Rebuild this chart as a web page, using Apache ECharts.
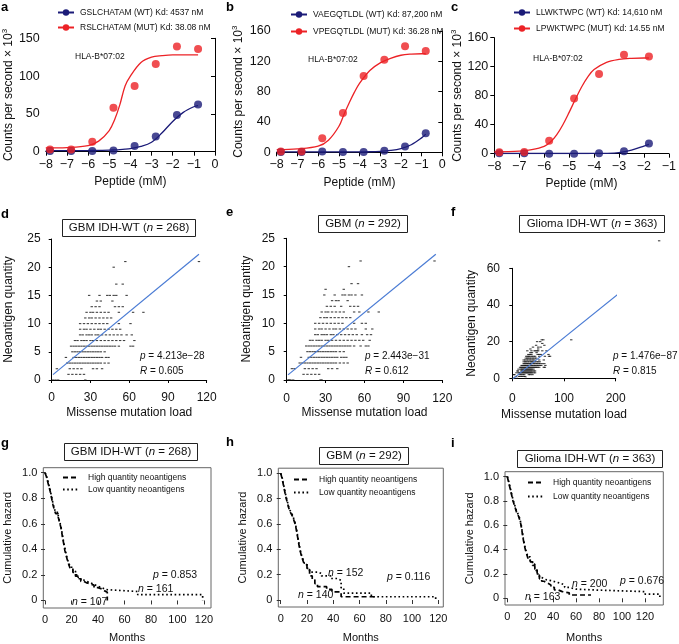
<!DOCTYPE html>
<html><head><meta charset="utf-8">
<script src="https://cdn.jsdelivr.net/npm/echarts@6/dist/echarts.min.js"></script>
<style>html,body{margin:0;padding:0;background:#fff}#c{width:679px;height:644px}</style>
</head><body><div id="c"></div>
<script>
const FONT = '"Liberation Sans", Arial, Helvetica, sans-serif';
const NAVY = '#1b1b78', RED = '#ec2226', BLUE = '#4a7bd4';

// ---------- a/b/c : peptide binding ----------
const peptideX8 = [-7.8,-6.8,-5.8,-4.8,-3.8,-2.8,-1.8,-0.8];
const peptideX7 = [-7.8,-6.8,-5.8,-4.8,-3.8,-2.8,-1.8];
const fitX8 = [-8,-7,-6,-5.5,-5,-4.75,-4.5,-4.25,-4,-3.5,-3,-2.5,-2,-1.5,-1,-0.8];
const fitX7 = [-8,-7,-6.5,-6,-5.75,-5.5,-5.25,-5,-4.75,-4.5,-4.25,-4,-3.5,-3,-2.5,-2,-1.8];

const aNames = ['GSLCHATAM (WT) Kd: 4537 nM','RSLCHATAM (MUT) Kd: 38.08 nM'];
const aWT  = [1,1,1,1.5,7.5,20,48.5,62.5];
const aMUT = [3,3,13,58,87,116,139,136];
const aWTfit  = [1.5,1.5,1.6,1.8,2,2.3,2.7,3.3,4.2,7,12.5,25,40,52,59.5,61];
const aMUTfit = [5,5.5,8,14,28,42,62,87,100,118,125,127,128,128,128,128];

const bNames = ['VAEGQTLDL (WT) Kd: 87,200 nM','VPEGQTLDL (MUT) Kd: 36.28 nM'];
const bWT  = [0.5,0.5,1,0.5,0.5,2,7.5,25];
const bMUT = [1,1,18.5,52,100.5,122,140,133.5];
const bWTfit  = [0.5,0.5,0.5,0.5,0.5,0.5,0.5,0.55,0.6,0.7,1.2,2.5,5,10,19,24];
const bMUTfit = [3.5,4.5,8,16,34,50,65,79,91,108,118,124,128,129.5,130,130];

const cNames = ['LLWKTWPC (WT) Kd: 14,610 nM','LPWKTWPC (MUT) Kd: 14.55 nM'];
const cWT  = [0.5,0.5,0,0,0.5,3.5,14];
const cMUT = [2,2.5,18,76,110,136.5,134];
const cWTfit  = [0.3,0.3,0.3,0.3,0.3,0.3,0.3,0.3,0.3,0.3,0.3,0.35,0.5,1.5,5,10.5,13];
const cMUTfit = [2.5,3.5,5.5,10,16,26,40,57,75,92,106,116,126,130,131.5,132,132];

// ---------- d/e/f : neoantigen vs missense ----------
const scatterD = [
 [1,0],[3,0],[5,0],[26,0],
 [13,1],[16,1],[19,1],[22,1],[25,1],
 [4,2],[14,2],[17,2],[20,2],[23,2],[32,2],[35,2],[39,2],
 [12,3],[14,3],[16,3],[18,3],[20,3],[22,3],[24,3],[26,3],[28,3],[30,3],[32,3],[34,3],[36,3],[38,3],[41,3],[44,3],
 [11,4],[17,4],[19,4],[21,4],[23,4],[25,4],[27,4],[29,4],[31,4],[33,4],[35,4],[37,4],[39,4],[42,4],[44,4],
 [16,5],[18,5],[20,5],[22,5],[24,5],[26,5],[28,5],[30,5],[32,5],[34,5],[36,5],[38,5],[41,5],
 [15,6],[17,6],[19,6],[21,6],[23,6],[25,6],[27,6],[29,6],[31,6],[33,6],[35,6],[37,6],[39,6],[41,6],[43,6],[45,6],[47,6],[49,6],[52,6],[61,6],[63,6],
 [18,7],[20,7],[23,7],[25,7],[27,7],[30,7],[32,7],[35,7],[38,7],[41,7],[44,7],[47,7],[50,7],[53,7],[56,7],[64,7],
 [22,8],[24,8],[27,8],[29,8],[31,8],[34,8],[36,8],[39,8],[42,8],[45,8],[48,8],[51,8],[54,8],[58,8],[62,8],
 [22,9],[25,9],[27,9],[30,9],[33,9],[36,9],[38,9],[41,9],[44,9],[47,9],[50,9],[53,9],
 [22,10],[25,10],[28,10],[31,10],[34,10],[37,10],[40,10],[43,10],[52,10],[61,10],
 [26,11],[29,11],[31,11],[34,11],[37,11],[40,11],[43,11],[46,11],
 [27,12],[30,12],[32,12],[35,12],[38,12],[41,12],[44,12],[52,12],[63,12],[71,12],
 [31,13],[34,13],[37,13],[49,13],[52,13],[55,13],
 [35,14],[38,14],[47,14],
 [29,15],[37,15],[43,15],[45,15],[48,15],[50,15],[58,15],
 [50,17],[55,17],[48,20],[57,21],[114,21]
];
const extraE = [[2,0],[27,0],[6,2],[10,3],[47,3],[46,4],[44,5],[57,6],[59,7],[65,8],[66,9],[61,9],[58,10],[49,11],[56,12],[42,13],[40,14],[53,15],[30,16],[44,16]];
const extraF = [[7,1],[9,0],[3,2],[8,3],[10,4],[12,5],[35,16],[40,17],[46,18],[50,16],[54,20],[58,19],[60,21],[62,18],[66,15],[70,13],[73,12],[284,75]];
const scatterE = scatterD.concat(extraE);
const scatterF = scatterD.concat(extraF);
const fitLineD = [[1,0.95],[114,22.3]];
const fitLineE = [[1,0.9],[115,22.2]];
const fitLineF = [[1,-0.3],[284,64]];

// ---------- g/h/i : cumulative hazard ----------
const kmLegend = ['High quantity neoantigens','Low quantity neoantigens'];
const kmG_high = [[0,1],[1,0.97],[2,0.93],[3,0.89],[4,0.85],[5,0.8],[6,0.75],[7,0.71],[8,0.68],[10,0.65],[11,0.61],[12,0.57],[13,0.51],[14,0.45],[15,0.39],[16,0.35],[17,0.31],[18,0.28],[19,0.25],[21,0.22],[23,0.19],[25,0.17],[27,0.15],[29,0.14],[31,0.13],[34,0.12],[37,0.1],[40,0.09],[43,0.075],[45,0.065],[47,0]];
const kmG_low  = [[0,1],[1,0.98],[2,0.94],[3,0.9],[4,0.86],[5,0.81],[6,0.76],[7,0.72],[8,0.69],[10,0.66],[11,0.62],[12,0.58],[13,0.52],[14,0.46],[15,0.41],[16,0.36],[17,0.32],[18,0.29],[19,0.26],[21,0.23],[23,0.2],[25,0.18],[27,0.16],[29,0.15],[31,0.14],[34,0.125],[37,0.11],[40,0.1],[43,0.085],[46,0.07],[70,0.045],[119,0]];
const kmH_high = [[0,1],[1,0.96],[2,0.91],[3,0.86],[4,0.81],[5,0.77],[6,0.73],[7,0.7],[8,0.68],[9,0.66],[10,0.63],[11,0.6],[12,0.55],[13,0.49],[14,0.43],[15,0.38],[16,0.34],[17,0.31],[18,0.28],[20,0.24],[22,0.19],[24,0.16],[26,0.13],[28,0.105],[35,0.085],[39,0.065],[46,0.026],[74,0.026]];
const kmH_low  = [[0,1],[1,0.97],[2,0.92],[3,0.87],[4,0.82],[5,0.78],[6,0.74],[7,0.71],[8,0.69],[9,0.67],[10,0.64],[11,0.61],[12,0.56],[13,0.5],[14,0.44],[15,0.39],[16,0.35],[17,0.32],[18,0.29],[20,0.25],[22,0.22],[28,0.21],[31,0.19],[38,0.17],[43,0.155],[46,0.095],[48,0.055],[69,0.026],[118,0]];
const kmI_high = [[0,1],[1,0.96],[2,0.92],[3,0.88],[4,0.84],[5,0.8],[6,0.77],[7,0.74],[8,0.71],[9,0.69],[10,0.67],[11,0.64],[12,0.6],[13,0.54],[14,0.48],[15,0.43],[16,0.39],[17,0.36],[18,0.33],[20,0.3],[22,0.27],[24,0.23],[26,0.19],[28,0.16],[30,0.14],[32,0.125],[35,0.11],[38,0.09],[41,0.07],[44,0.055],[48,0.045],[54,0.027],[73,0.027]];
const kmI_low  = [[0,1],[1,0.97],[2,0.93],[3,0.89],[4,0.85],[5,0.81],[6,0.78],[7,0.75],[8,0.72],[9,0.7],[10,0.68],[11,0.65],[12,0.61],[13,0.55],[14,0.49],[15,0.44],[16,0.4],[17,0.37],[18,0.34],[20,0.31],[22,0.28],[24,0.24],[26,0.2],[28,0.17],[30,0.155],[33,0.145],[38,0.135],[42,0.125],[46,0.11],[50,0.09],[54,0.075],[60,0.068],[77,0.055],[120,0.035],[133,0]];
const kmXTicks = [0,20,40,60,80,100,120];
const kmYTicks = [0,0.2,0.4,0.6,0.8,1];

// ---------- build ----------
const zip = (xs, ys) => xs.map((x, i) => [x, ys[i]]);
const minus = v => (v < 0 ? '\u2212' + Math.abs(v) : String(v));
const grids = [], xAxes = [], yAxes = [], series = [], titles = [], legends = [];
const tx = (size, extra) => Object.assign({fontFamily: FONT, fontSize: size, color: '#111', fontWeight: 'normal'}, extra || {});

function dosePanel(p) {
  const gi = grids.length;
  grids.push({left: p.left, top: p.top, width: p.width, height: p.height});
  xAxes.push({gridIndex: gi, type: 'value', min: p.xmin, max: p.xmax, interval: 1,
    axisLine: {lineStyle: {color: '#000', width: 1}}, axisTick: {length: 4, lineStyle: {color: '#000'}},
    axisLabel: Object.assign(tx(12.5), {formatter: minus, margin: 6}), splitLine: {show: false},
    name: 'Peptide (mM)', nameLocation: 'middle', nameGap: p.xGap, nameTextStyle: tx(12)});
  yAxes.push({gridIndex: gi, type: 'value', min: 0, max: p.ymax, interval: p.yint,
    axisLine: {show: true, lineStyle: {color: '#000', width: 1}}, axisTick: {show: true, length: 4, lineStyle: {color: '#000'}},
    axisLabel: Object.assign(tx(12.5), {margin: 6}), splitLine: {show: false},
    name: '{a|Counts per second × 10}{s|3}', nameLocation: 'middle', nameGap: p.yGap,
    nameTextStyle: {rich: {a: tx(12), s: tx(8, {padding: [0, 0, 8, 0]})}}});
  const mk = (name, color, fx, fy, px, py) => {
    series.push({type: 'line', name, xAxisIndex: gi, yAxisIndex: gi, data: zip(fx, fy), smooth: 0.35,
      symbol: 'circle', symbolSize: 8, showSymbol: false, color, lineStyle: {width: 1.3, color}});
    series.push({type: 'scatter', name, xAxisIndex: gi, yAxisIndex: gi, data: zip(px, py),
      symbol: 'circle', symbolSize: 8, itemStyle: {color}, z: 5});
  };
  mk(p.names[0], NAVY, p.fitX, p.wtFit, p.ptX, p.wt);
  mk(p.names[1], RED, p.fitX, p.mutFit, p.ptX, p.mut);
  legends.push({left: p.legLeft, top: p.legTop, padding: 0, orient: 'vertical', data: p.names, selectedMode: false,
    itemWidth: 16, itemHeight: 8, itemGap: p.legGap, textStyle: tx(8.5, {padding: [0, 0, 0, 1]})});
  titles.push({text: 'HLA-B*07:02', left: p.hlaLeft, top: p.hlaTop, padding: 0, textStyle: tx(8.5)});
}

dosePanel({left: 43, top: 38.3, width: 172, height: 113.4, xmin: -8, xmax: 0, ymax: 150, yint: 50,
  names: aNames, ptX: peptideX8, wt: aWT, mut: aMUT, fitX: fitX8, wtFit: aWTfit, mutFit: aMUTfit,
  xGap: 24, yGap: 28, legLeft: 57, legTop: 8, legGap: 6, hlaLeft: 75, hlaTop: 52});
dosePanel({left: 276.7, top: 31, width: 165.6, height: 121.3, xmin: -8, xmax: 0, ymax: 160, yint: 40,
  names: bNames, ptX: peptideX8, wt: bWT, mut: bMUT, fitX: fitX8, wtFit: bWTfit, mutFit: bMUTfit,
  xGap: 24, yGap: 30, legLeft: 290, legTop: 10, legGap: 8, hlaLeft: 308, hlaTop: 55});
dosePanel({left: 494.3, top: 37.7, width: 183.4, height: 116, xmin: -8, xmax: -1, ymax: 160, yint: 40,
  names: cNames, ptX: peptideX7, wt: cWT, mut: cMUT, fitX: fitX7, wtFit: cWTfit, mutFit: cMUTfit,
  xGap: 24, yGap: 24, legLeft: 513, legTop: 8, legGap: 7, hlaLeft: 533, hlaTop: 54});

function scatterPanel(p) {
  const gi = grids.length;
  grids.push({left: p.left, top: p.top, width: p.width, height: p.height});
  xAxes.push({gridIndex: gi, type: 'value', min: 0, max: p.xmax, interval: p.xint, offset: p.xOff,
    axisLine: {lineStyle: {color: '#000'}}, axisTick: {length: 3, lineStyle: {color: '#000'}},
    axisLabel: Object.assign(tx(12), {margin: 4}), splitLine: {show: false},
    name: 'Missense mutation load', nameLocation: 'middle', nameGap: p.xGap, nameTextStyle: tx(12)});
  yAxes.push({gridIndex: gi, type: 'value', min: 0, max: p.ymax, interval: p.yint, offset: p.yOff,
    axisLine: {show: true, lineStyle: {color: '#000'}}, axisTick: {show: true, length: 3, lineStyle: {color: '#000'}},
    axisLabel: Object.assign(tx(12), {margin: 5}), splitLine: {show: false},
    name: 'Neoantigen quantity', nameLocation: 'middle', nameGap: p.yGap, nameTextStyle: tx(12)});
  series.push({type: 'scatter', xAxisIndex: gi, yAxisIndex: gi, data: p.data, clip: false,
    symbol: 'rect', symbolSize: [2.4, 1.1], itemStyle: {color: '#111'}});
  series.push({type: 'line', xAxisIndex: gi, yAxisIndex: gi, data: p.fit, clip: false, symbol: 'none',
    lineStyle: {color: BLUE, width: 1.2}, z: 4});
  titles.push({text: p.title, left: p.tCx, top: p.tTop, textAlign: 'center', padding: [3, 7, 3, 7],
    borderColor: '#222', borderWidth: 1, textStyle: tx(11.5),
    rich: {}, subtext: ''});
  titles[titles.length - 1].textStyle.rich = {a: tx(11.5), i: tx(11.5, {fontStyle: 'italic'})};
  titles.push({text: '{i|p}{a| = ' + p.pval + '}', left: p.statLeft, top: p.statTop, padding: 0,
    textStyle: Object.assign(tx(10), {rich: {a: tx(10), i: tx(10, {fontStyle: 'italic'})}})});
  titles.push({text: '{i|R}{a| = ' + p.r + '}', left: p.statLeft, top: p.statTop + 15, padding: 0,
    textStyle: Object.assign(tx(10), {rich: {a: tx(10), i: tx(10, {fontStyle: 'italic'})}})});
}

scatterPanel({left: 51.7, top: 239, width: 155, height: 141, xmax: 120, xint: 30, ymax: 25, yint: 5, xOff: 8, yOff: 6,
  data: scatterD, fit: fitLineD, xGap: 19, yGap: 31, title: '{a|GBM IDH-WT (}{i|n}{a| = 268)}', tCx: 122, tTop: 219,
  pval: '4.213e\u221228', r: '0.605', statLeft: 140, statTop: 351});
scatterPanel({left: 286.7, top: 238.3, width: 155.6, height: 141.7, xmax: 120, xint: 30, ymax: 25, yint: 5, xOff: 9, yOff: 6.7,
  data: scatterE, fit: fitLineE, xGap: 18, yGap: 27, title: '{a|GBM (}{i|n}{a| = 292)}', tCx: 356, tTop: 215,
  pval: '2.443e\u221231', r: '0.612', statLeft: 365, statTop: 351});
scatterPanel({left: 512.3, top: 268.3, width: 103.4, height: 110, xmax: 200, xint: 100, ymax: 60, yint: 20, xOff: 10, yOff: 7.3,
  data: scatterF, fit: fitLineF, xGap: 20, yGap: 27, title: '{a|Glioma IDH-WT (}{i|n}{a| = 363)}', tCx: 585, tTop: 215,
  pval: '1.476e\u221287', r: '0.815', statLeft: 613, statTop: 351});

function kmPanel(p) {
  const gi = grids.length;
  grids.push({left: p.left, top: p.top, width: p.width, height: p.height, show: true, borderColor: '#666', borderWidth: 1});
  xAxes.push({gridIndex: gi, type: 'value', min: p.xmin, max: p.xmax,
    axisLine: {show: false}, axisTick: {show: true, length: 4, customValues: kmXTicks, lineStyle: {color: '#333'}},
    axisLabel: Object.assign(tx(11), {customValues: kmXTicks, margin: 6}), splitLine: {show: false},
    name: 'Months', nameLocation: 'middle', nameGap: p.xGap, nameTextStyle: tx(11)});
  yAxes.push({gridIndex: gi, type: 'value', min: p.ymin, max: p.ymax,
    axisLine: {show: false}, axisTick: {show: true, length: 4, customValues: kmYTicks, lineStyle: {color: '#333'}},
    axisLabel: Object.assign(tx(11), {customValues: kmYTicks, margin: 6, formatter: v => (v === 0 ? '0' : v.toFixed(1))}),
    splitLine: {show: false},
    name: 'Cumulative hazard', nameLocation: 'middle', nameGap: p.yGap, nameTextStyle: tx(11)});
  series.push({type: 'line', name: kmLegend[0], xAxisIndex: gi, yAxisIndex: gi, data: p.high, step: 'end', symbol: 'none',
    color: '#000', lineStyle: {color: '#000', width: 1.7, type: [5, 3]}});
  series.push({type: 'line', name: kmLegend[1], xAxisIndex: gi, yAxisIndex: gi, data: p.low, step: 'end', symbol: 'none',
    color: '#000', lineStyle: {color: '#000', width: 1.7, type: [1.6, 2.6]}});
  legends.push({left: p.legLeft, top: p.legTop, padding: 0, orient: 'vertical', data: kmLegend, selectedMode: false,
    itemWidth: 16, itemHeight: 8, itemGap: p.legGap, itemStyle: {color: 'rgba(0,0,0,0)', borderWidth: 0, opacity: 0},
    textStyle: tx(8.5, {padding: [0, 0, 0, 4]})});
  titles.push({text: p.title, left: p.tCx, top: p.tTop, textAlign: 'center', padding: [3, 7, 3, 7],
    borderColor: '#222', borderWidth: 1,
    textStyle: Object.assign(tx(11.5), {rich: {a: tx(11.5), i: tx(11.5, {fontStyle: 'italic'})}})});
  const lab = (txt, l, t) => titles.push({text: txt, left: l, top: t, padding: 0,
    textStyle: Object.assign(tx(10.5), {rich: {a: tx(10.5), i: tx(10.5, {fontStyle: 'italic'})}})});
  lab('{i|p}{a| = ' + p.pval + '}', p.pPos[0], p.pPos[1]);
  lab('{i|n}{a| = ' + p.nLow + '}', p.nLowPos[0], p.nLowPos[1]);
  lab('{i|n}{a| = ' + p.nHigh + '}', p.nHighPos[0], p.nHighPos[1]);
}

kmPanel({left: 43.3, top: 467.7, width: 167.7, height: 141.6, xmin: -1.3, xmax: 125.3, ymin: -0.059, ymax: 1.039,
  high: kmG_high, low: kmG_low, xGap: 24, yGap: 30, legLeft: 62, legTop: 473, legGap: 3,
  title: '{a|GBM IDH-WT (}{i|n}{a| = 268)}', tCx: 124, tTop: 443,
  pval: '0.853', pPos: [153, 570], nLow: '161', nLowPos: [138, 584], nHigh: '107', nHighPos: [72, 597]});
kmPanel({left: 278.3, top: 468.2, width: 165, height: 138.8, xmin: -1.83, xmax: 123.8, ymin: -0.055, ymax: 1.04,
  high: kmH_high, low: kmH_low, xGap: 25, yGap: 30, legLeft: 293, legTop: 475, legGap: 4,
  title: '{a|GBM (}{i|n}{a| = 292)}', tCx: 357, tTop: 447,
  pval: '0.116', pPos: [387, 572], nLow: '152', nLowPos: [328, 568], nHigh: '140', nHighPos: [298, 590]});
kmPanel({left: 505, top: 471.7, width: 158.3, height: 136.9, xmin: -2, xmax: 136, ymin: -0.055, ymax: 1.04,
  high: kmI_high, low: kmI_low, xGap: 27, yGap: 30, legLeft: 527, legTop: 478, legGap: 5,
  title: '{a|Glioma IDH-WT (}{i|n}{a| = 363)}', tCx: 583, tTop: 450,
  pval: '0.676', pPos: [620, 576], nLow: '200', nLowPos: [572, 579], nHigh: '163', nHighPos: [525, 592]});

// panel letters
[['a',1,1],['b',226,1],['c',451,1],['d',1,208],['e',226,206],['f',451,206],['g',1,437],['h',226,436],['i',451,437]]
  .forEach(([t, l, tp]) => titles.push({text: t, left: l, top: tp, padding: 0, textStyle: tx(13, {fontWeight: 'bold', color: '#000'})}));

const chart = echarts.init(document.getElementById('c'), null, {renderer: 'canvas'});
chart.setOption({animation: false, backgroundColor: '#fff', textStyle: {fontFamily: FONT},
  grid: grids, xAxis: xAxes, yAxis: yAxes, series, title: titles, legend: legends});
</script></body></html>
